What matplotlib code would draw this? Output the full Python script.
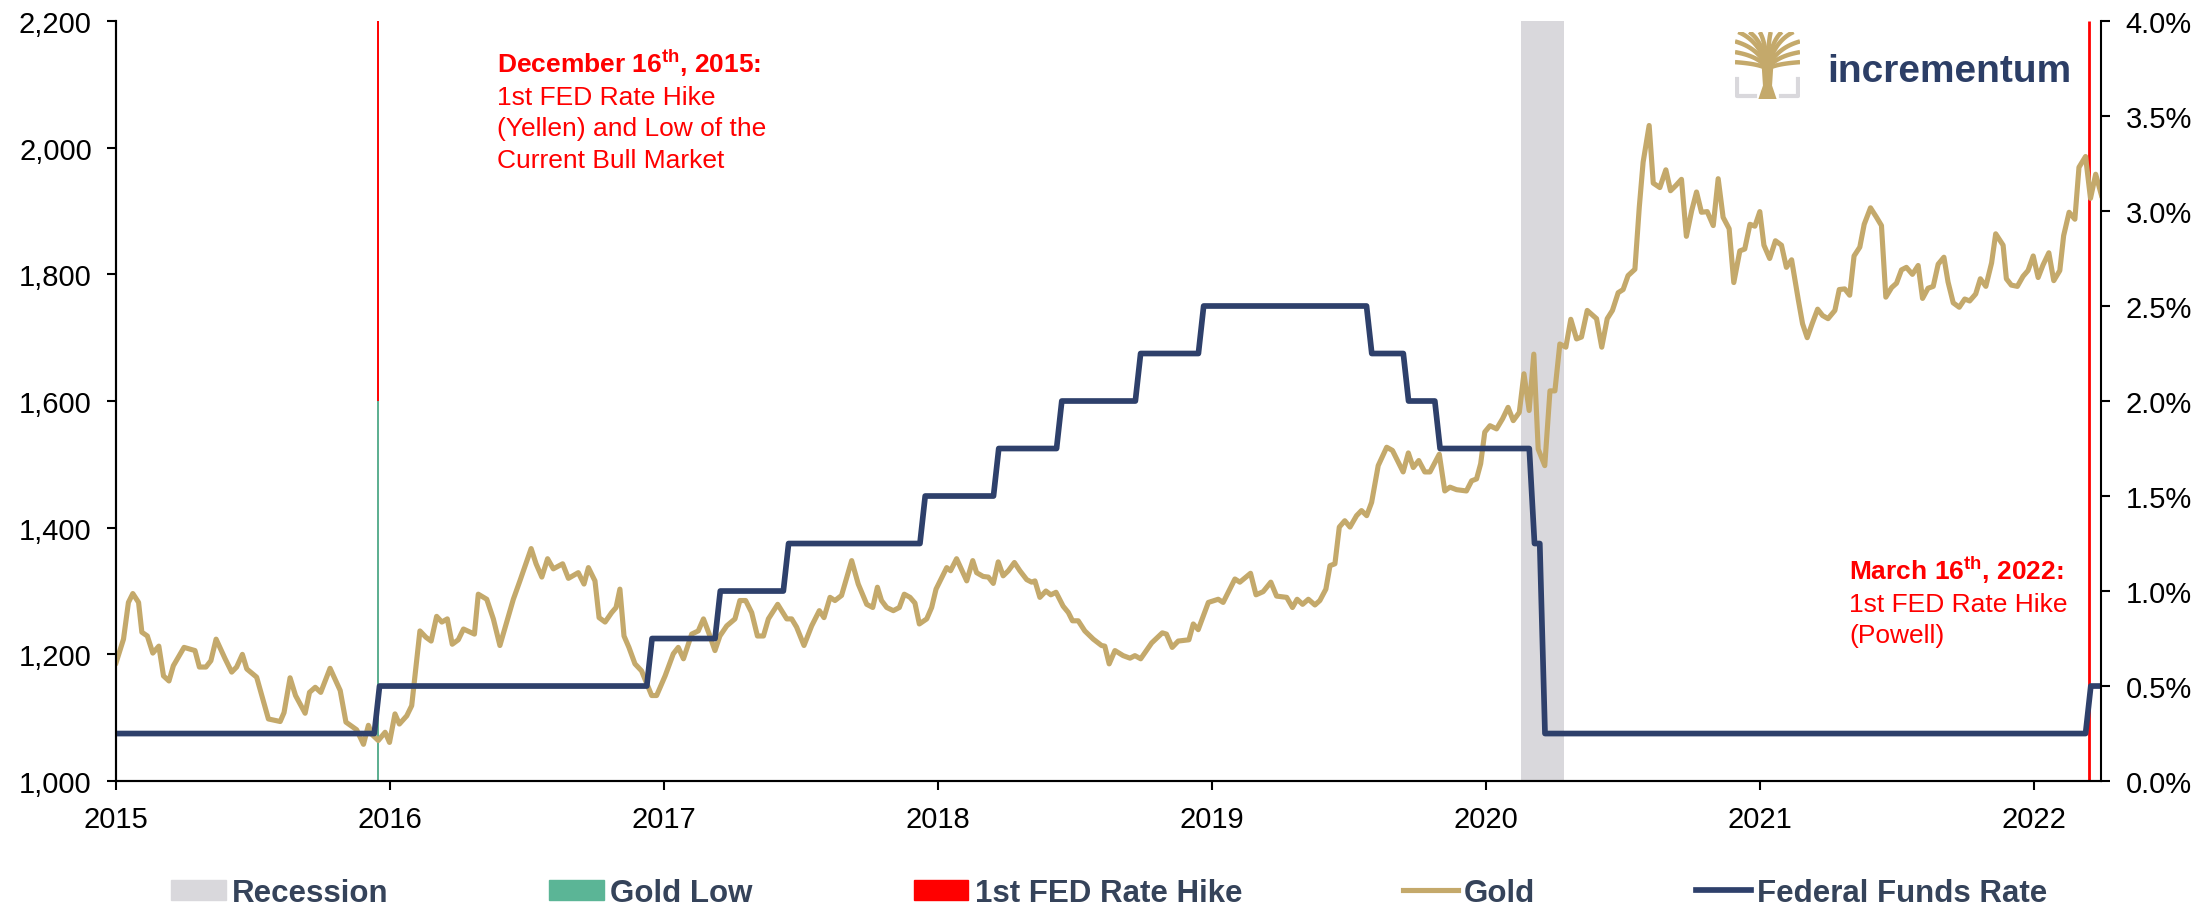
import matplotlib
matplotlib.use('Agg')
import matplotlib.pyplot as plt
from matplotlib.patches import Patch, Polygon
from matplotlib.lines import Line2D
from matplotlib.ticker import FuncFormatter
import numpy as np
import pandas as pd

plt.rcParams['font.family'] = 'Liberation Sans'
plt.rcParams['mathtext.fontset'] = 'custom'
plt.rcParams['mathtext.rm'] = 'Liberation Sans'
plt.rcParams['mathtext.bf'] = 'Liberation Sans:bold'

# gold price in USD/oz; time is years since 1 Jan 2015
gold_t = [0.000, 0.027, 0.045, 0.061, 0.082, 0.094, 0.114, 0.134, 0.156, 0.173,
          0.193, 0.209, 0.248, 0.288, 0.304, 0.328, 0.346, 0.365, 0.398, 0.422,
          0.440, 0.461, 0.477, 0.513, 0.556, 0.599, 0.613, 0.635, 0.655, 0.690,
          0.706, 0.727, 0.747, 0.781, 0.818, 0.839, 0.878, 0.903, 0.921, 0.933,
          0.957, 0.982, 0.998, 1.018, 1.034, 1.061, 1.079, 1.109, 1.131, 1.150,
          1.170, 1.189, 1.209, 1.227, 1.249, 1.268, 1.308, 1.322, 1.353, 1.377,
          1.401, 1.426, 1.450, 1.474, 1.515, 1.533, 1.554, 1.575, 1.596, 1.630,
          1.651, 1.687, 1.708, 1.724, 1.748, 1.763, 1.785, 1.809, 1.825, 1.839,
          1.854, 1.872, 1.894, 1.918, 1.940, 1.955, 1.973, 2.004, 2.034, 2.052,
          2.071, 2.101, 2.125, 2.144, 2.165, 2.186, 2.204, 2.229, 2.259, 2.277,
          2.298, 2.320, 2.341, 2.363, 2.381, 2.415, 2.448, 2.466, 2.484, 2.511,
          2.539, 2.567, 2.584, 2.606, 2.624, 2.648, 2.685, 2.709, 2.740, 2.762,
          2.779, 2.794, 2.813, 2.837, 2.859, 2.877, 2.898, 2.916, 2.932, 2.959,
          2.977, 2.993, 3.032, 3.046, 3.068, 3.105, 3.127, 3.141, 3.165, 3.184,
          3.202, 3.220, 3.238, 3.257, 3.279, 3.299, 3.324, 3.342, 3.354, 3.372,
          3.394, 3.412, 3.431, 3.457, 3.476, 3.491, 3.512, 3.536, 3.567, 3.597,
          3.609, 3.625, 3.646, 3.676, 3.701, 3.719, 3.740, 3.780, 3.819, 3.834,
          3.855, 3.877, 3.916, 3.932, 3.950, 3.987, 4.023, 4.041, 4.084, 4.102,
          4.141, 4.161, 4.187, 4.215, 4.236, 4.273, 4.294, 4.311, 4.331, 4.352,
          4.376, 4.394, 4.416, 4.431, 4.449, 4.465, 4.485, 4.504, 4.528, 4.546,
          4.565, 4.583, 4.607, 4.638, 4.659, 4.698, 4.717, 4.735, 4.755, 4.777,
          4.796, 4.830, 4.850, 4.869, 4.893, 4.929, 4.948, 4.966, 4.981, 4.996,
          5.015, 5.039, 5.061, 5.081, 5.100, 5.122, 5.139, 5.158, 5.175, 5.191,
          5.215, 5.234, 5.252, 5.270, 5.292, 5.310, 5.331, 5.349, 5.370, 5.404,
          5.423, 5.443, 5.462, 5.483, 5.501, 5.519, 5.544, 5.560, 5.574, 5.596,
          5.611, 5.635, 5.657, 5.674, 5.693, 5.714, 5.732, 5.751, 5.769, 5.787,
          5.808, 5.830, 5.848, 5.866, 5.888, 5.905, 5.927, 5.945, 5.964, 5.982,
          6.000, 6.015, 6.036, 6.057, 6.079, 6.097, 6.116, 6.140, 6.156, 6.173,
          6.191, 6.211, 6.229, 6.249, 6.274, 6.290, 6.310, 6.328, 6.344, 6.365,
          6.381, 6.404, 6.426, 6.444, 6.460, 6.481, 6.499, 6.517, 6.535, 6.557,
          6.578, 6.594, 6.614, 6.633, 6.651, 6.672, 6.687, 6.706, 6.728, 6.748,
          6.766, 6.788, 6.805, 6.825, 6.846, 6.861, 6.888, 6.900, 6.918, 6.940,
          6.961, 6.979, 6.998, 7.016, 7.034, 7.055, 7.073, 7.095, 7.109, 7.129,
          7.150, 7.165, 7.189, 7.207, 7.226, 7.247]
gold_usd = [1187, 1224, 1282, 1296, 1282, 1235, 1229, 1202, 1213, 1166,
            1158, 1182, 1211, 1206, 1180, 1180, 1190, 1224, 1193, 1172,
            1180, 1200, 1177, 1164, 1098, 1094, 1108, 1163, 1135, 1107,
            1140, 1148, 1140, 1178, 1143, 1093, 1081, 1058, 1088, 1074,
            1064, 1077, 1061, 1106, 1090, 1103, 1119, 1237, 1227, 1221,
            1260, 1251, 1256, 1216, 1223, 1240, 1232, 1295, 1287, 1256,
            1214, 1251, 1287, 1316, 1367, 1343, 1322, 1351, 1335, 1343,
            1320, 1329, 1311, 1337, 1316, 1258, 1251, 1266, 1274, 1303,
            1229, 1211, 1185, 1174, 1151, 1135, 1135, 1166, 1201, 1211,
            1193, 1232, 1237, 1256, 1232, 1206, 1229, 1245, 1256, 1285,
            1285, 1266, 1229, 1229, 1256, 1279, 1256, 1256, 1243, 1214,
            1245, 1269, 1258, 1290, 1285, 1293, 1348, 1311, 1279, 1274,
            1306, 1285, 1274, 1269, 1274, 1295, 1290, 1281, 1248, 1256,
            1274, 1303, 1337, 1332, 1351, 1316, 1348, 1329, 1323, 1322,
            1312, 1346, 1324, 1332, 1345, 1332, 1318, 1314, 1316, 1290,
            1300, 1294, 1298, 1276, 1266, 1253, 1253, 1237, 1224, 1214,
            1213, 1185, 1206, 1198, 1194, 1198, 1193, 1218, 1234, 1232,
            1211, 1221, 1223, 1248, 1239, 1282, 1287, 1282, 1319, 1314,
            1328, 1294, 1299, 1314, 1292, 1290, 1274, 1287, 1279, 1287,
            1278, 1285, 1303, 1340, 1343, 1401, 1411, 1401, 1419, 1427,
            1419, 1440, 1498, 1527, 1522, 1488, 1518, 1495, 1506, 1488,
            1488, 1516, 1458, 1464, 1460, 1458, 1474, 1477, 1501, 1551,
            1561, 1556, 1572, 1590, 1569, 1582, 1643, 1585, 1674, 1524,
            1498, 1616, 1616, 1690, 1685, 1729, 1698, 1701, 1743, 1730,
            1685, 1730, 1743, 1771, 1776, 1798, 1808, 1906, 1977, 2035,
            1944, 1937, 1965, 1932, 1940, 1950, 1860, 1900, 1930, 1898,
            1899, 1877, 1951, 1890, 1872, 1787, 1837, 1840, 1879, 1876,
            1899, 1846, 1825, 1853, 1846, 1811, 1823, 1761, 1722, 1700,
            1722, 1745, 1735, 1730, 1743, 1776, 1777, 1767, 1829, 1843,
            1879, 1905, 1890, 1877, 1764, 1779, 1786, 1807, 1811, 1800,
            1814, 1762, 1778, 1781, 1816, 1827, 1788, 1755, 1748, 1761,
            1758, 1769, 1793, 1781, 1818, 1864, 1846, 1793, 1783, 1781,
            1797, 1806, 1829, 1795, 1815, 1834, 1790, 1806, 1861, 1898,
            1887, 1969, 1986, 1920, 1958, 1925]

# federal funds target rate (upper bound), effective dates of changes
rate_dates = ['2015-01-01', '2015-12-17', '2016-12-15', '2017-03-16', '2017-06-15',
              '2017-12-14', '2018-03-22', '2018-06-14', '2018-09-27', '2018-12-20',
              '2019-08-01', '2019-09-19', '2019-10-31', '2020-03-04', '2020-03-16',
              '2022-03-17']
rate_pct = [0.25, 0.50, 0.75, 1.00, 1.25, 1.50, 1.75, 2.00, 2.25, 2.50,
            2.25, 2.00, 1.75, 1.25, 0.25, 0.50]

recession = ('2020-02-17', '2020-04-14')
hike_dates = ['2015-12-16', '2022-03-16']
gold_low_date = '2015-12-16'
gold_low_level = 1600

gold_c = '#C4A96B'
ffr_c = '#2E406B'
text_c = '#35435A'


def dec_year(d):
    d = pd.Timestamp(d)
    n = 366 if d.is_leap_year else 365
    return d.year + (d.dayofyear - 1) / n


# weekly series of the policy rate
weeks = pd.date_range('2015-01-02', '2022-04-01', freq='W-FRI')
idx = np.searchsorted(pd.to_datetime(rate_dates), weeks, side='right') - 1
ffr = np.array(rate_pct)[idx]
ffr_x = [dec_year(w) for w in weeks]

fig = plt.figure(figsize=(22.03, 9.12), dpi=100)
ax = fig.add_axes([0.0527, 0.1425, 0.9012, 0.8334])
ax2 = ax.twinx()

ax.axvspan(dec_year(recession[0]), dec_year(recession[1]), color='#D9D8DC', lw=0, zorder=0)
ax.vlines(dec_year(hike_dates[0]), 1000, 2200, color='#FF0000', lw=1.4, zorder=1)
ax.vlines(dec_year(gold_low_date), 1000, gold_low_level, color='#5BB596', lw=1.4, zorder=2)
ax.vlines(dec_year(hike_dates[1]), 1000, 2200, color='#FF0000', lw=2.0, zorder=1)

ax.plot(2015 + np.array(gold_t), gold_usd, color=gold_c, lw=3.7, zorder=3,
        solid_joinstyle='round')
ax2.plot(ffr_x, ffr, color=ffr_c, lw=4.1, solid_joinstyle='round')

ax.set_xlim(2015, 2022.247)
ax.set_ylim(1000, 2200)
ax2.set_ylim(0, 4)
ax.set_xticks(range(2015, 2023))
ax.set_xticklabels([str(y) for y in range(2015, 2023)])
ax.set_yticks(np.arange(1000, 2201, 200))
ax2.set_yticks(np.arange(0, 4.01, 0.5))
ax.yaxis.set_major_formatter(FuncFormatter(lambda v, p: f'{v:,.0f}'))
ax2.yaxis.set_major_formatter(FuncFormatter(lambda v, p: f'{v:.1f}%'))

for a in (ax, ax2):
    a.spines['top'].set_visible(False)
    for s in a.spines.values():
        s.set_linewidth(1.5)
    a.tick_params(direction='out', length=6.5, width=1.5, labelsize=21, pad=11)
ax.spines['right'].set_visible(False)

# annotations
W, H = 2203.0, 912.0
notes = [
    (497, 73, ['December 16$^{\\mathbf{th}}$, 2015:', '1st FED Rate Hike',
               '(Yellen) and Low of the', 'Current Bull Market']),
    (1849, 580, ['March 16$^{\\mathbf{th}}$, 2022:', '1st FED Rate Hike', '(Powell)']),
]
for px, py, lines in notes:
    for i, s in enumerate(lines):
        fig.text(px / W, 1 - (py + i * 31.7) / H, s, color='#FF0000', fontsize=19,
                 fontweight='bold' if i == 0 else 'normal', ha='left', va='baseline')

# logo
fig.text(1827 / W, 1 - 82 / H, 'incrementum', color='#2C3E66', fontsize=28,
         fontweight='bold', ha='left', va='baseline')
lax = fig.add_axes([1735 / W, 1 - 100 / H, 65 / W, 67 / H])
lax.set_xlim(0, 1)
lax.set_ylim(0, 1)
lax.axis('off')
lax.add_patch(Polygon([(0.36, 0.0), (0.64, 0.0), (0.57, 0.2), (0.59, 0.5),
                       (0.41, 0.5), (0.43, 0.2)], closed=True, color=gold_c, lw=0))
tt = np.linspace(0, 1, 20)
for ex, ey in [(0.05, 1.0), (0.22, 1.0), (0.38, 1.0), (0.55, 1.0), (0.72, 1.0),
               (0.9, 1.0), (0.0, 0.86), (1.0, 0.86), (0.0, 0.7), (1.0, 0.7),
               (0.0, 0.55), (1.0, 0.55)]:
    cx, cy = 0.5 + (ex - 0.5) * 0.25, 0.45 + (ey - 0.45) * 0.75
    bx = (1 - tt) ** 2 * 0.5 + 2 * tt * (1 - tt) * cx + tt ** 2 * ex
    by = (1 - tt) ** 2 * 0.45 + 2 * tt * (1 - tt) * cy + tt ** 2 * ey
    lax.plot(bx, by, color=gold_c, lw=3.2, solid_capstyle='butt')
lax.plot([0.03, 0.03, 0.3], [0.3, 0.04, 0.04], color='#D9D8DC', lw=3)
lax.plot([0.7, 0.97, 0.97], [0.04, 0.04, 0.3], color='#D9D8DC', lw=3)

# legend
handles = [Patch(color='#D9D8DC'), Patch(color='#5BB596'), Patch(color='#FF0000'),
           Line2D([], [], color=gold_c, lw=3.7), Line2D([], [], color=ffr_c, lw=4.1)]
labels = ['Recession', 'Gold Low', '1st FED Rate Hike', 'Gold', 'Federal Funds Rate']
fig.legend(handles, labels, loc='center', bbox_to_anchor=(0.5035, 0.02), ncol=5,
           frameon=False, prop=dict(weight='bold', size=22.5), labelcolor=text_c,
           handlelength=1.75, handleheight=0.6, handletextpad=0.2, columnspacing=5.15)

fig.savefig('out.png', dpi=100)
